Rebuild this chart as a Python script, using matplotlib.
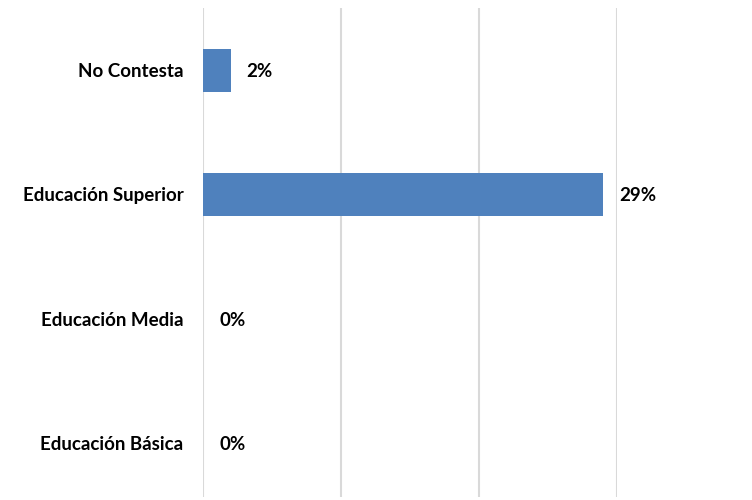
import matplotlib.pyplot as plt

categories = ["Educación Básica", "Educación Media", "Educación Superior", "No Contesta"]
values = [0.0, 0.0, 0.29, 0.02]
labels = ["0%", "0%", "29%", "2%"]

BAR_COLOR = "#4f81bd"
GRID_COLOR = "#d9d9d9"

plt.rcParams["font.family"] = ["Lato", "DejaVu Sans"]

fig = plt.figure(figsize=(7.52, 5.0), dpi=100)
# plot area runs a little past the bottom edge of the picture (cropped)
top_px, bot_px, band_px = 8, 497, 124.3
ax = fig.add_axes([203 / 752, 1 - bot_px / 500, (617 - 203) / 752, (bot_px - top_px) / 500])

ypos = range(len(categories))
ax.barh(ypos, values, height=0.346, color=BAR_COLOR, zorder=3)

for y, v, lab in zip(ypos, values, labels):
    ax.annotate(lab, xy=(v, y), xytext=(16, 0), textcoords="offset pixels",
                va="center_baseline", ha="left", fontsize=13.5, fontweight="bold",
                color="black")

ax.set_xlim(0, 0.3)
ax.set_ylim(len(categories) - 0.5 - (bot_px - top_px) / band_px, len(categories) - 0.5)
ax.set_xticks([0, 0.1, 0.2, 0.3])
ax.set_xticklabels([])
ax.set_yticks(list(ypos))
ax.set_yticklabels(categories, fontsize=13.5, fontweight="bold", va="center_baseline")
ax.tick_params(axis="both", length=0, pad=14)
ax.grid(axis="x", color=GRID_COLOR, linewidth=1.5, zorder=0)
for s in ax.spines.values():
    s.set_visible(False)

fig.savefig("out.png", dpi=100)
